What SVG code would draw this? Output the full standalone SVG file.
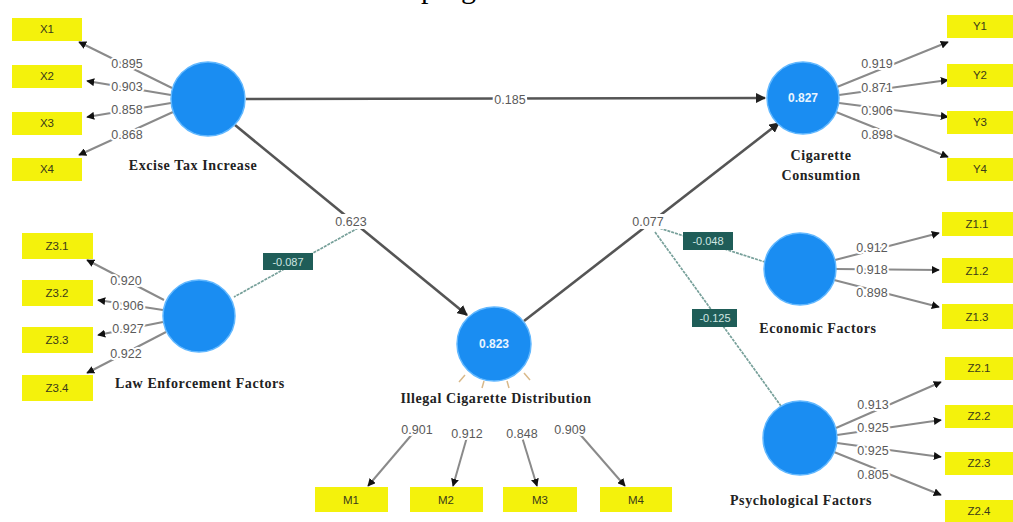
<svg xmlns="http://www.w3.org/2000/svg" width="1013" height="522" viewBox="0 0 1013 522">
<style>
.box{fill:#f4f20c;}
.bt{font-family:"Liberation Sans",Arial,sans-serif;font-size:11.5px;fill:#3a3a1a;text-anchor:middle;}
.lv{fill:#1a8df2;stroke:#62b8ff;stroke-width:1.5;}
.cv{font-family:"Liberation Sans",Arial,sans-serif;font-size:12px;font-weight:bold;fill:#e8f4ff;text-anchor:middle;}
.nl{font-family:"Liberation Serif","Times New Roman",serif;font-size:14px;letter-spacing:0.6px;font-weight:bold;fill:#222;text-anchor:middle;}
.ld{stroke:#8a8a8a;stroke-width:2;fill:none;}
.st{stroke:#555;stroke-width:2.6;fill:none;}
.md{stroke:#77a09a;stroke-width:1.7;fill:none;stroke-dasharray:3 1;}
.num{font-family:"Liberation Sans",Arial,sans-serif;font-size:12.5px;fill:#5a5a5a;text-anchor:middle;paint-order:stroke;stroke:#fff;stroke-width:4px;stroke-linejoin:round;}
.pb{fill:#fff;}
.mb{fill:#1f5d58;}
.mt{font-family:"Liberation Sans",Arial,sans-serif;font-size:11px;fill:#cfe6e2;text-anchor:middle;}
.stub{stroke:#d9b98a;stroke-width:1.5;fill:none;}
</style>
<defs>
<marker id="ah" viewBox="0 0 10 10" refX="9" refY="5" markerWidth="4" markerHeight="4" orient="auto" markerUnits="strokeWidth">
<path d="M0,0 L10,5 L0,10 z" fill="#111"/>
</marker>
<marker id="ahs" viewBox="0 0 10 10" refX="9" refY="5" markerWidth="4" markerHeight="4" orient="auto" markerUnits="strokeWidth">
<path d="M0,0 L10,5 L0,10 z" fill="#222"/>
</marker>
</defs>
<rect width="1013" height="522" fill="#fff"/>
<text x="421" y="-2" font-family="'Liberation Serif','Times New Roman',serif" font-size="30" fill="#000">program</text>

<g id="connectors">
<!-- structural -->
<path class="st" d="M246,99 L765,98" marker-end="url(#ahs)"/>
<path class="st" d="M235,125 L467,315" marker-end="url(#ahs)"/>
<path class="st" d="M524,321 L779,123" marker-end="url(#ahs)"/>
<!-- moderators -->
<path class="md" d="M358,228 L234,297"/>
<path class="md" d="M656,227 L765,262"/>
<path class="md" d="M655,232 L781,406"/>
<!-- Excise loadings -->
<path class="ld" d="M172,88 L79,42" marker-end="url(#ah)"/>
<path class="ld" d="M171,95 L87,81" marker-end="url(#ah)"/>
<path class="ld" d="M171,103 L87,117" marker-end="url(#ah)"/>
<path class="ld" d="M173,112 L79,155" marker-end="url(#ah)"/>
<!-- Law loadings -->
<path class="ld" d="M164,300 L87,260" marker-end="url(#ah)"/>
<path class="ld" d="M163,310 L98,300" marker-end="url(#ah)"/>
<path class="ld" d="M163,322 L98,335" marker-end="url(#ah)"/>
<path class="ld" d="M166,332 L87,373" marker-end="url(#ah)"/>
<!-- Cigarette loadings -->
<path class="ld" d="M837,87 L948,42" marker-end="url(#ah)"/>
<path class="ld" d="M839,95 L948,80" marker-end="url(#ah)"/>
<path class="ld" d="M839,103 L948,117" marker-end="url(#ah)"/>
<path class="ld" d="M836,112 L948,157" marker-end="url(#ah)"/>
<!-- Economic loadings -->
<path class="ld" d="M835,260 L939,233" marker-end="url(#ah)"/>
<path class="ld" d="M836,269 L939,270" marker-end="url(#ah)"/>
<path class="ld" d="M834,280 L939,307" marker-end="url(#ah)"/>
<!-- Psychological loadings -->
<path class="ld" d="M836,428 L941,382" marker-end="url(#ah)"/>
<path class="ld" d="M837,435 L941,420" marker-end="url(#ah)"/>
<path class="ld" d="M837,443 L941,457" marker-end="url(#ah)"/>
<path class="ld" d="M834,452 L941,495" marker-end="url(#ah)"/>
<!-- Illegal loadings -->
<path class="stub" d="M465,375 L459,382 M484,381 L482,388 M507,381 L509,388 M524,373 L530,380"/>
<path class="ld" d="M414,432 L368,486" marker-end="url(#ah)"/>
<path class="ld" d="M467,437 L453,486" marker-end="url(#ah)"/>
<path class="ld" d="M522,437 L537,486" marker-end="url(#ah)"/>
<path class="ld" d="M578,432 L625,486" marker-end="url(#ah)"/>

<!-- labels -->
<rect class="pb" x="493" y="92" width="34" height="15"/><text class="num" x="510" y="104">0.185</text>
<rect class="pb" x="334" y="214" width="34" height="15"/><text class="num" x="351" y="226">0.623</text>
<rect class="pb" x="631" y="214" width="34" height="15"/><text class="num" x="648" y="226">0.077</text>
<rect class="mb" x="263" y="253" width="50" height="17"/><text class="mt" x="288" y="266">-0.087</text>
<rect class="mb" x="683" y="232" width="50" height="18"/><text class="mt" x="708" y="245">-0.048</text>
<rect class="mb" x="692" y="309" width="45" height="18"/><text class="mt" x="715" y="322">-0.125</text>

<text class="num" x="127" y="68">0.895</text>
<text class="num" x="127" y="91">0.903</text>
<text class="num" x="127" y="114">0.858</text>
<text class="num" x="127" y="139">0.868</text>
<text class="num" x="126" y="285">0.920</text>
<text class="num" x="128" y="310">0.906</text>
<text class="num" x="128" y="333">0.927</text>
<text class="num" x="126" y="358">0.922</text>
<text class="num" x="877" y="68">0.919</text>
<text class="num" x="877" y="92">0.871</text>
<text class="num" x="877" y="115">0.906</text>
<text class="num" x="877" y="139">0.898</text>
<text class="num" x="872" y="252">0.912</text>
<text class="num" x="872" y="274">0.918</text>
<text class="num" x="872" y="297">0.898</text>
<text class="num" x="873" y="409">0.913</text>
<text class="num" x="873" y="432">0.925</text>
<text class="num" x="873" y="455">0.925</text>
<text class="num" x="873" y="479">0.805</text>
<text class="num" x="417" y="434">0.901</text>
<text class="num" x="467" y="438">0.912</text>
<text class="num" x="522" y="438">0.848</text>
<text class="num" x="570" y="434">0.909</text>
</g>

<g id="excise"><circle class="lv" cx="208" cy="99" r="37"/><text class="nl" x="193" y="170">Excise Tax Increase</text></g>
<g id="law"><circle class="lv" cx="199" cy="316" r="36"/><text class="nl" x="200" y="388">Law Enforcement Factors</text></g>
<g id="illegal"><circle class="lv" cx="494" cy="344" r="37"/><text class="cv" x="494" y="348">0.823</text>
<text class="nl" x="496" y="403">Illegal Cigarette Distribution</text></g>
<g id="consumption"><circle class="lv" cx="803" cy="98" r="36"/><text class="cv" x="803" y="102">0.827</text><text class="nl" x="821" y="160">Cigarette</text><text class="nl" x="821" y="180">Consumtion</text></g>
<g id="economic"><circle class="lv" cx="800" cy="269" r="36"/><text class="nl" x="818" y="333">Economic Factors</text></g>
<g id="psychological"><circle class="lv" cx="800" cy="438" r="37"/><text class="nl" x="801" y="505">Psychological Factors</text></g>

<g id="X1"><rect class="box" x="12" y="18" width="70" height="23"/><text class="bt" x="47" y="33">X1</text></g>
<g id="X2"><rect class="box" x="12" y="65" width="70" height="23"/><text class="bt" x="47" y="80">X2</text></g>
<g id="X3"><rect class="box" x="12" y="112" width="70" height="23"/><text class="bt" x="47" y="127">X3</text></g>
<g id="X4"><rect class="box" x="12" y="158" width="70" height="23"/><text class="bt" x="47" y="173">X4</text></g>
<g id="Z3.1"><rect class="box" x="22" y="233" width="71" height="26"/><text class="bt" x="57" y="250">Z3.1</text></g>
<g id="Z3.2"><rect class="box" x="22" y="280" width="71" height="26"/><text class="bt" x="57" y="297">Z3.2</text></g>
<g id="Z3.3"><rect class="box" x="22" y="327" width="71" height="26"/><text class="bt" x="57" y="344">Z3.3</text></g>
<g id="Z3.4"><rect class="box" x="22" y="375" width="71" height="26"/><text class="bt" x="57" y="392">Z3.4</text></g>
<g id="Y1"><rect class="box" x="947" y="15" width="66" height="23"/><text class="bt" x="980" y="30">Y1</text></g>
<g id="Y2"><rect class="box" x="947" y="64" width="66" height="23"/><text class="bt" x="980" y="79">Y2</text></g>
<g id="Y3"><rect class="box" x="947" y="111" width="66" height="23"/><text class="bt" x="980" y="126">Y3</text></g>
<g id="Y4"><rect class="box" x="947" y="158" width="66" height="23"/><text class="bt" x="980" y="173">Y4</text></g>
<g id="Z1.1"><rect class="box" x="942" y="212" width="71" height="24"/><text class="bt" x="977" y="228">Z1.1</text></g>
<g id="Z1.2"><rect class="box" x="942" y="258" width="71" height="25"/><text class="bt" x="977" y="275">Z1.2</text></g>
<g id="Z1.3"><rect class="box" x="942" y="304" width="71" height="25"/><text class="bt" x="977" y="321">Z1.3</text></g>
<g id="Z2.1"><rect class="box" x="945" y="357" width="68" height="23"/><text class="bt" x="979" y="372">Z2.1</text></g>
<g id="Z2.2"><rect class="box" x="945" y="405" width="68" height="23"/><text class="bt" x="979" y="420">Z2.2</text></g>
<g id="Z2.3"><rect class="box" x="945" y="452" width="68" height="23"/><text class="bt" x="979" y="467">Z2.3</text></g>
<g id="Z2.4"><rect class="box" x="945" y="500" width="68" height="22"/><text class="bt" x="979" y="515">Z2.4</text></g>
<g id="M1"><rect class="box" x="315" y="487" width="73" height="25"/><text class="bt" x="351" y="504">M1</text></g>
<g id="M2"><rect class="box" x="410" y="487" width="73" height="25"/><text class="bt" x="446" y="504">M2</text></g>
<g id="M3"><rect class="box" x="503" y="487" width="74" height="25"/><text class="bt" x="540" y="504">M3</text></g>
<g id="M4"><rect class="box" x="600" y="487" width="72" height="25"/><text class="bt" x="636" y="504">M4</text></g>
</svg>
